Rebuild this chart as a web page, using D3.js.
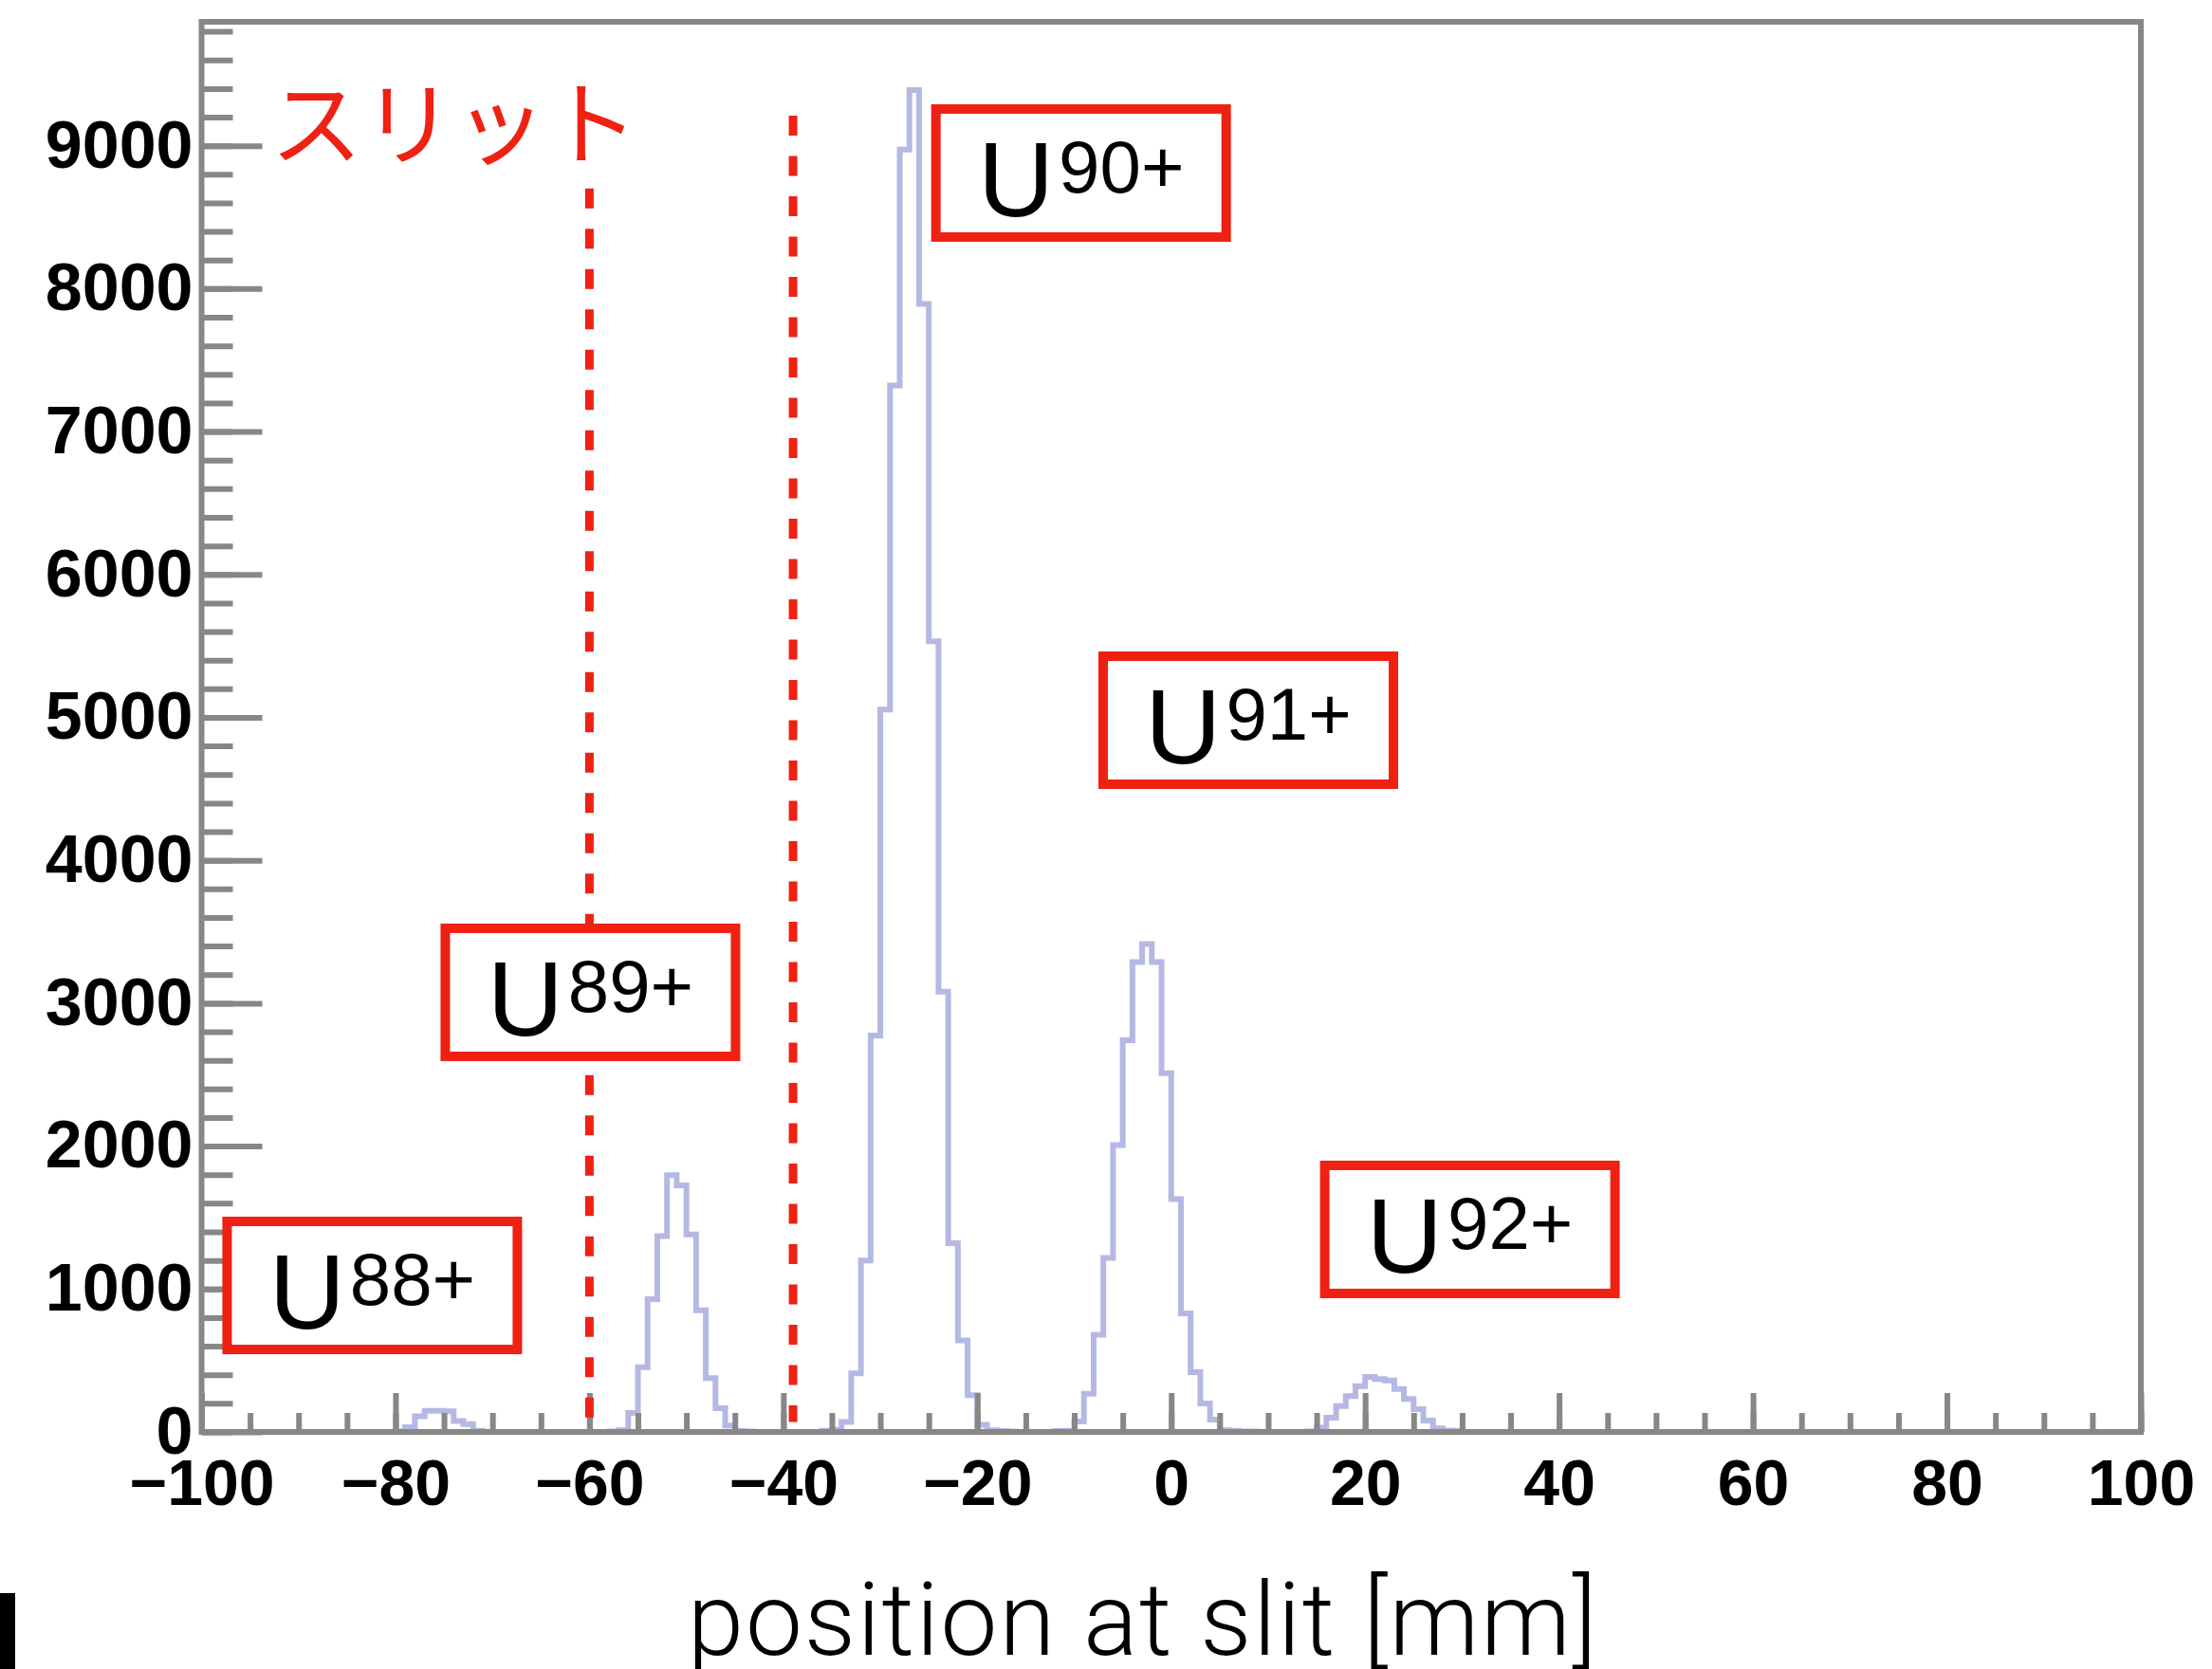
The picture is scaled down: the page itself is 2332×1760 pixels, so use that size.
<!DOCTYPE html>
<html>
<head>
<meta charset="utf-8">
<script src="https://cdn.jsdelivr.net/npm/d3@7"></script>
<style>
  body { margin: 0; background: #fff; }
  svg { display: block; }
</style>
</head>
<body>
<div id="chart"></div>
<script>
// position at slit, 1 mm bins from -100 to 100 (only the non-empty runs are listed)
var xMin = -100, xMax = 100, binWidth = 1;
var yMax = 9867;

var u88Start = -80;
var u88Counts = [5, 33, 110, 148, 148, 144, 77, 55, 8];
var u89Start = -58;
var u89Counts = [3, 12, 133, 453, 929, 1371, 1796, 1725, 1382, 851, 376, 166, 44, 6, 4];
var u90Start = -36;
var u90Counts = [8, 15, 70, 410, 1200, 2774, 5054, 7322, 8973, 9390, 7893, 5532, 3080, 1320, 640, 257, 50, 12, 6, 4];
var u91Start = -12;
var u91Counts = [6, 8, 73, 267, 680, 1217, 2007, 2740, 3288, 3414, 3288, 2510, 1629, 829, 418, 199, 86, 12, 8, 4, 4];
var u92Start = 14;
var u92Counts = [4, 30, 100, 180, 250, 320, 385, 370, 360, 300, 230, 160, 80, 25, 10, 6];

var xMajor = d3.range(-100, 101, 20);
var xMinor = d3.range(-100, 101, 5);
var yMajor = d3.range(0, 9001, 1000);
var yMinor = d3.range(0, 9801, 200);

// slit edges (mm) and how far up the dashed lines go (counts)
var slitX   = [-60, -39];
var slitTop = [8700, 9210];
var slitBottom = 70;

// charge state boxes, centred at (mm, counts)
var ionCharges = ["88+", "89+", "90+", "91+", "92+"];
var ionX = [-82.4, -59.9, -9.3, 7.95, 30.8];
var ionY = [1025, 3076, 8809, 4980, 1417];

var slitLabel = "スリット";
var slitLabelX = -92.9, slitLabelY = 8920;
var xTitle = "position at slit [mm]";

var W = 2332, H = 1760;
var m = {top: 23, right: 75, bottom: 250, left: 212.5};
var red = "#ee2112";
var gray = "#878787";

var svg = d3.select("#chart").append("svg")
    .attr("width", W)
    .attr("height", H);

var x = d3.scaleLinear().domain([xMin, xMax]).range([m.left, W - m.right]);
var y = d3.scaleLinear().domain([0, yMax]).range([H - m.bottom, m.top]);

// fill the 200 bins
var nBins = (xMax - xMin) / binWidth;
var counts = d3.range(nBins).map(() => 0);
[[u88Start, u88Counts], [u89Start, u89Counts], [u90Start, u90Counts],
 [u91Start, u91Counts], [u92Start, u92Counts]].forEach((p) => {
  p[1].forEach((c, i) => { counts[(p[0] - xMin) / binWidth + i] = c; });
});
var steps = d3.range(nBins + 1).map((i) => [xMin + i * binWidth, counts[Math.min(i, nBins - 1)]]);

svg.append("clipPath").attr("id", "plot")
  .append("rect")
    .attr("x", x(xMin)).attr("y", y(yMax))
    .attr("width", x(xMax) - x(xMin)).attr("height", y(0) - y(yMax));

svg.append("path")
    .datum(steps)
    .attr("clip-path", "url(#plot)")
    .attr("fill", "none")
    .attr("stroke", "#b4b9e3")
    .attr("stroke-width", 6)
    .attr("d", d3.line().curve(d3.curveStepAfter).x((d) => x(d[0])).y((d) => y(d[1])));

// axes, ticks inside the frame
function styleAxis(size) {
  return function(g) {
    g.select(".domain").remove();
    g.selectAll(".tick line").attr("stroke", gray).attr("stroke-width", 6);
    g.selectAll(".tick text")
      .attr("fill", "#000")
      .attr("font-family", "'Liberation Sans', Arial, sans-serif")
      .attr("font-weight", "bold")
      .attr("font-size", size);
  };
}

svg.append("g")
    .attr("transform", "translate(0," + y(0) + ")")
    .call(d3.axisBottom(x).tickValues(xMinor).tickSizeInner(-20).tickSizeOuter(0).tickFormat(""))
    .call(styleAxis(68));
svg.append("g")
    .attr("transform", "translate(0," + y(0) + ")")
    .call(d3.axisBottom(x).tickValues(xMajor).tickSizeInner(-41).tickSizeOuter(0)
      .tickPadding(29).tickFormat(d3.format("d")))
    .call(styleAxis(68));

svg.append("g")
    .attr("transform", "translate(" + x(xMin) + ",0)")
    .call(d3.axisLeft(y).tickValues(yMinor).tickSizeInner(-33).tickSizeOuter(0).tickFormat(""))
    .call(styleAxis(70));
svg.append("g")
    .attr("transform", "translate(" + x(xMin) + ",0)")
    .call(d3.axisLeft(y).tickValues(yMajor).tickSizeInner(-64).tickSizeOuter(0)
      .tickPadding(9).tickFormat(d3.format("d")))
    .call(styleAxis(70));

svg.append("rect")
    .attr("x", x(xMin)).attr("y", y(yMax))
    .attr("width", x(xMax) - x(xMin)).attr("height", y(0) - y(yMax))
    .attr("fill", "none")
    .attr("stroke", gray)
    .attr("stroke-width", 6);

// slit
svg.selectAll("line.slit")
  .data(slitX)
  .enter().append("line")
    .attr("class", "slit")
    .attr("x1", (d) => x(d)).attr("x2", (d) => x(d))
    .attr("y1", (d, i) => y(slitTop[i])).attr("y2", y(slitBottom))
    .attr("stroke", red)
    .attr("stroke-width", 9)
    .attr("stroke-dasharray", "21 21.5");

svg.append("text")
    .attr("x", x(slitLabelX)).attr("y", y(slitLabelY))
    .attr("fill", red)
    .attr("font-family", "'Noto Sans CJK JP', sans-serif")
    .attr("font-size", 97)
    .text(slitLabel);

// charge state labels
var boxW = 306, boxH = 135;
var lab = svg.selectAll("g.ion")
  .data(ionCharges)
  .enter().append("g")
    .attr("class", "ion")
    .attr("transform", (d, i) => "translate(" + x(ionX[i]) + "," + y(ionY[i]) + ")");

lab.append("rect")
    .attr("x", -boxW / 2).attr("y", -boxH / 2)
    .attr("width", boxW).attr("height", boxH)
    .attr("fill", "#fff")
    .attr("stroke", red)
    .attr("stroke-width", 10);

var t = lab.append("text")
    .attr("text-anchor", "middle")
    .attr("y", 45.5)
    .attr("fill", "#000")
    .attr("font-family", "'Liberation Sans', Arial, sans-serif")
    .attr("font-size", 111)
    .text("U");
t.append("tspan")
    .attr("dx", 5)
    .attr("dy", -25)
    .attr("font-size", 78)
    .text((d) => d);

// axis title
svg.append("text")
    .attr("x", 1205).attr("y", 1745)
    .attr("text-anchor", "middle")
    .attr("fill", "#000")
    .attr("font-family", "Roboto, 'Liberation Sans', sans-serif")
    .attr("font-weight", 300)
    .attr("font-size", 107)
    .attr("letter-spacing", 1.8)
    .text(xTitle);

// cut-off glyph at the lower left edge of the image
svg.append("rect")
    .attr("x", 0).attr("y", 1680)
    .attr("width", 16).attr("height", 80)
    .attr("fill", "#000");
</script>
</body>
</html>
